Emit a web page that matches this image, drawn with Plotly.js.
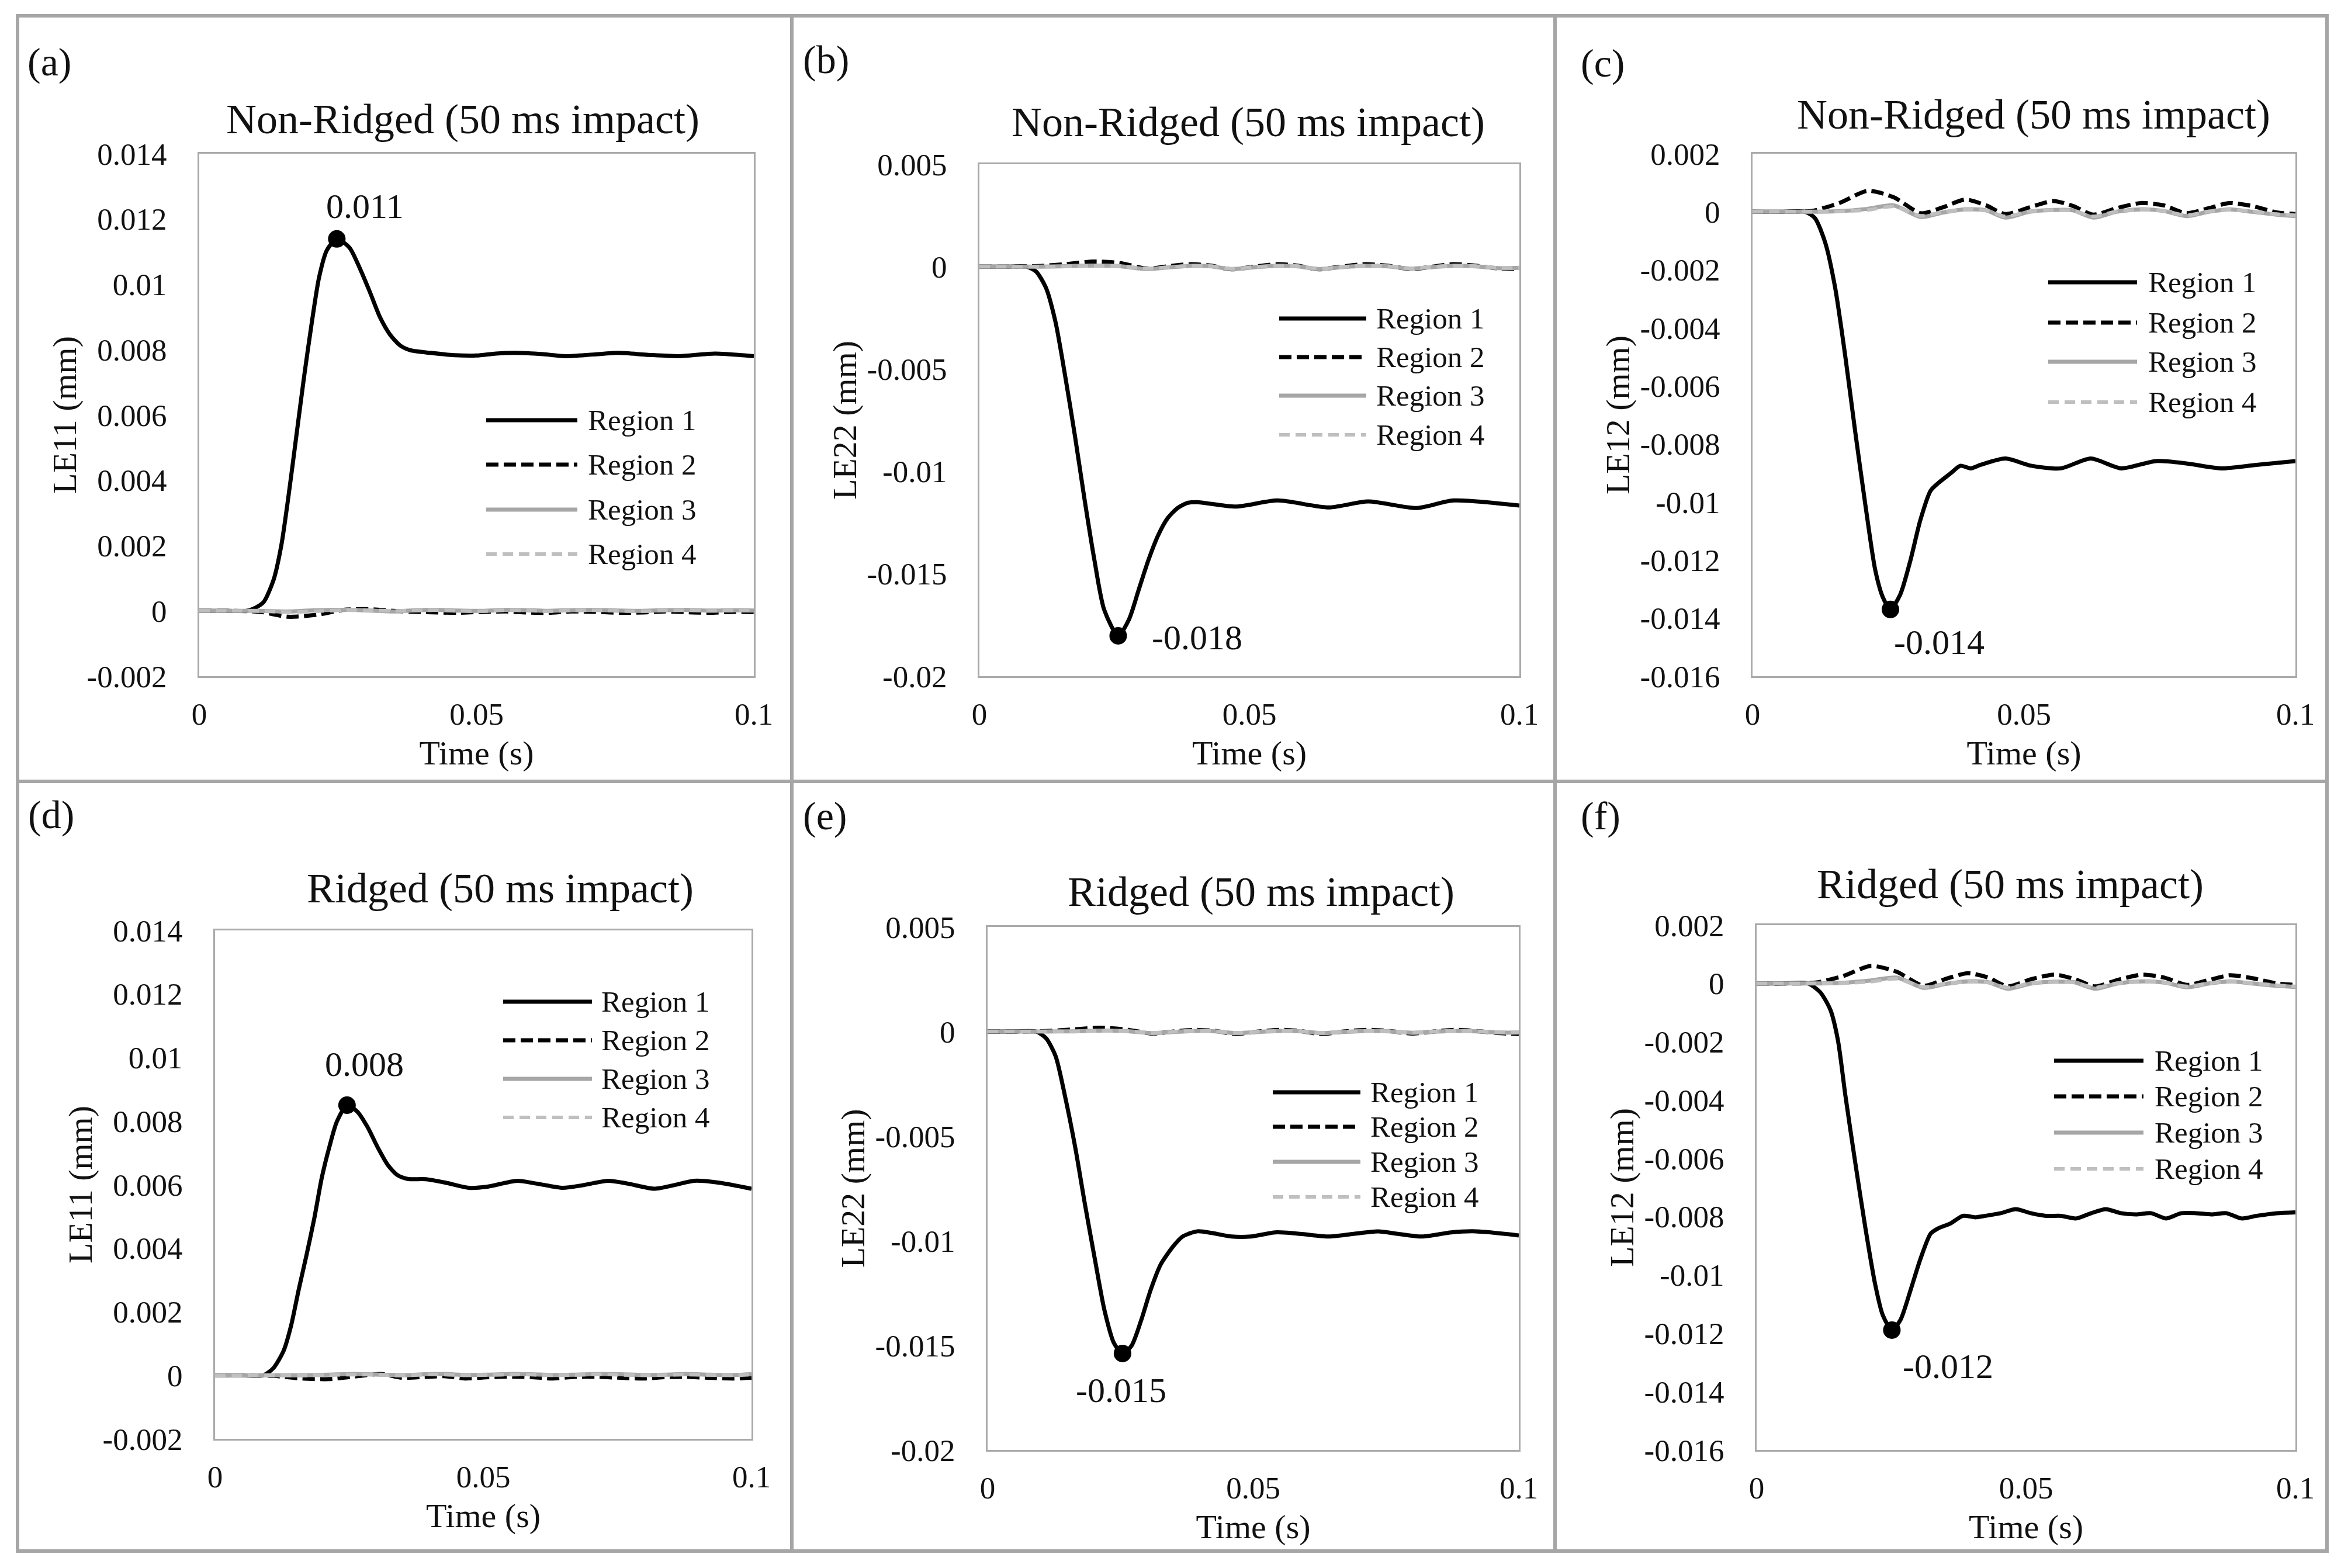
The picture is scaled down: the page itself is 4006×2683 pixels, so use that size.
<!DOCTYPE html>
<html><head><meta charset="utf-8">
<script src="https://cdn.plot.ly/plotly-3.0.1.min.js"></script>
<style>html,body{margin:0;padding:0;background:#fff;}#chart{width:4006px;height:2683px;}</style>
</head><body><div id="chart"></div>
<script>
// ================= DATA =================
const regionNames = ['Region 1', 'Region 2', 'Region 3', 'Region 4'];
const panelLetters = ['(a)', '(b)', '(c)', '(d)', '(e)', '(f)'];
const panelTitles = ['Non-Ridged (50 ms impact)', 'Non-Ridged (50 ms impact)', 'Non-Ridged (50 ms impact)',
                     'Ridged (50 ms impact)', 'Ridged (50 ms impact)', 'Ridged (50 ms impact)'];
const yTitles = ['LE11 (mm)', 'LE22 (mm)', 'LE12 (mm)', 'LE11 (mm)', 'LE22 (mm)', 'LE12 (mm)'];
const xTitle = 'Time (s)';
const peakLabels = ['0.011', '-0.018', '-0.014', '0.008', '-0.015', '-0.012'];

const xTickVals = [0, 0.05, 0.1];
const xTickText = ['0', '0.05', '0.1'];
const yTickValsLE11 = [-0.002, 0, 0.002, 0.004, 0.006, 0.008, 0.01, 0.012, 0.014];
const yTickTextLE11 = ['-0.002', '0', '0.002', '0.004', '0.006', '0.008', '0.01', '0.012', '0.014'];
const yTickValsLE22 = [-0.02, -0.015, -0.01, -0.005, 0, 0.005];
const yTickTextLE22 = ['-0.02', '-0.015', '-0.01', '-0.005', '0', '0.005'];
const yTickValsLE12 = [-0.016, -0.014, -0.012, -0.01, -0.008, -0.006, -0.004, -0.002, 0, 0.002];
const yTickTextLE12 = ['-0.016', '-0.014', '-0.012', '-0.01', '-0.008', '-0.006', '-0.004', '-0.002', '0', '0.002'];

// Region 1 (time, value) per panel
const tA1 = [0, 0.005, 0.0085, 0.0098, 0.0116, 0.0134, 0.0148, 0.0161, 0.0175, 0.0189, 0.0203, 0.0216, 0.023, 0.0248, 0.0271, 0.0289, 0.0308, 0.0326, 0.0344, 0.0362, 0.0381, 0.0417, 0.046, 0.05, 0.0535, 0.057, 0.062, 0.066, 0.071, 0.0756, 0.081, 0.0865, 0.093, 0.1];
const vA1 = [0, 0, 0, 0.00007, 0.00027, 0.00095, 0.00201, 0.00353, 0.00535, 0.00717, 0.00884, 0.01021, 0.01104, 0.01139, 0.01112, 0.01051, 0.00975, 0.00899, 0.00846, 0.00813, 0.00798, 0.0079, 0.00783, 0.00782, 0.00788, 0.0079, 0.00786, 0.0078, 0.00785, 0.0079, 0.00784, 0.0078, 0.00788, 0.0078];

const tB1 = [0, 0.005, 0.0087, 0.0105, 0.0123, 0.0141, 0.0159, 0.0177, 0.0195, 0.0213, 0.0231, 0.0257, 0.0277, 0.0295, 0.0313, 0.0331, 0.0349, 0.0367, 0.0385, 0.0403, 0.0475, 0.0552, 0.0647, 0.072, 0.081, 0.0878, 0.1];
const vB1 = [0, 0, 0, -0.00024, -0.00102, -0.00271, -0.00537, -0.00828, -0.01142, -0.01433, -0.01675, -0.01803, -0.01723, -0.01578, -0.01433, -0.01312, -0.01227, -0.01179, -0.01154, -0.0115, -0.01172, -0.01142, -0.01176, -0.01147, -0.01179, -0.01142, -0.01167];

const tC1 = [0, 0.005, 0.0097, 0.0115, 0.0134, 0.0152, 0.0171, 0.0189, 0.0208, 0.0226, 0.024, 0.0254, 0.0272, 0.0291, 0.0309, 0.0328, 0.0342, 0.0365, 0.0383, 0.0402, 0.042, 0.0466, 0.0513, 0.0568, 0.0623, 0.0679, 0.0743, 0.0799, 0.0863, 0.0928, 0.1];
const vC1 = [0, 0, 0, -0.00022, -0.00107, -0.0026, -0.005, -0.00756, -0.01012, -0.01234, -0.01328, -0.0137, -0.01319, -0.012, -0.01063, -0.00961, -0.00935, -0.00901, -0.00875, -0.00884, -0.00872, -0.0085, -0.00875, -0.00884, -0.0085, -0.00884, -0.00859, -0.00867, -0.00884, -0.00872, -0.00859];

const tD1 = [0, 0.005, 0.009, 0.0109, 0.0128, 0.0142, 0.0156, 0.0171, 0.0185, 0.0199, 0.0213, 0.0227, 0.0246, 0.0265, 0.0284, 0.0303, 0.0322, 0.034, 0.0359, 0.0393, 0.043, 0.0473, 0.0506, 0.0563, 0.06, 0.0648, 0.0685, 0.0733, 0.077, 0.0818, 0.0855, 0.0893, 0.094, 0.1];
const vD1 = [0, 0, 0, 0.00023, 0.00078, 0.00158, 0.0027, 0.00382, 0.00494, 0.00622, 0.00718, 0.00798, 0.0085, 0.0083, 0.00782, 0.00718, 0.00662, 0.0063, 0.00618, 0.00617, 0.00606, 0.0059, 0.00593, 0.00612, 0.00603, 0.0059, 0.00598, 0.00612, 0.00603, 0.00587, 0.00598, 0.00612, 0.00606, 0.00587];

const tE1 = [0, 0.005, 0.0091, 0.011, 0.0128, 0.0146, 0.0165, 0.0183, 0.0202, 0.022, 0.0238, 0.0254, 0.0271, 0.0289, 0.0307, 0.0326, 0.0349, 0.0367, 0.0395, 0.0422, 0.0459, 0.0496, 0.0542, 0.0588, 0.0643, 0.0689, 0.0735, 0.0772, 0.0818, 0.0873, 0.0919, 0.1];
const vE1 = [0, 0, 0, -0.00032, -0.00117, -0.00312, -0.00554, -0.00822, -0.01089, -0.01332, -0.0149, -0.01539, -0.01502, -0.01381, -0.01235, -0.01113, -0.01028, -0.0098, -0.00955, -0.00963, -0.0098, -0.0098, -0.0096, -0.00967, -0.0098, -0.00967, -0.00955, -0.00967, -0.0098, -0.0096, -0.00955, -0.00975];

const tF1 = [0, 0.005, 0.0095, 0.0118, 0.0137, 0.0151, 0.0165, 0.0183, 0.0202, 0.022, 0.0234, 0.0251, 0.0267, 0.0286, 0.0304, 0.0323, 0.0337, 0.036, 0.0383, 0.0406, 0.0425, 0.0453, 0.0481, 0.0509, 0.0537, 0.0565, 0.0593, 0.0621, 0.0648, 0.0676, 0.0704, 0.0732, 0.076, 0.0788, 0.0816, 0.0844, 0.0872, 0.09, 0.0928, 0.0965, 0.1];
const vF1 = [0, 0, 0, -0.0003, -0.00091, -0.00196, -0.00388, -0.00614, -0.0084, -0.01032, -0.01137, -0.01189, -0.01154, -0.0105, -0.00945, -0.00858, -0.0084, -0.00823, -0.00797, -0.00802, -0.00797, -0.00788, -0.00774, -0.00788, -0.00797, -0.00797, -0.00806, -0.00788, -0.00774, -0.00788, -0.00792, -0.00788, -0.00806, -0.00788, -0.00788, -0.00792, -0.00788, -0.00806, -0.00797, -0.00788, -0.00785];

// Regions 2-4 share one time base
const tS = [0, 0.006, 0.011, 0.016, 0.0212, 0.026, 0.031, 0.035, 0.0392, 0.043, 0.0466, 0.051, 0.0554, 0.059, 0.0628, 0.067, 0.0715, 0.0757, 0.0799, 0.084, 0.0878, 0.092, 0.0965, 0.1];

const vA2 = [0, 0, -0.00003, -0.00018, -0.00012, 0.00003, 0.00005, 0, -0.00003, -0.00005, -0.00006, -0.00003, -0.00002, -0.00005, -0.00006, -0.00002, -0.00003, -0.00006, -0.00005, -0.00002, -0.00004, -0.00006, -0.00003, -0.00004];
const vA3 = [0, 0, 0, -0.00002, 0.00002, 0.00003, 0.00001, -0.00002, 0.00002, 0.00003, 0.00001, 0, 0.00003, 0.00002, 0, 0.00002, 0.00003, 0.00001, 0, 0.00002, 0.00003, 0.00001, 0.00002, 0.00001];
const vA4 = [0, 0, 0, -0.00004, -0.00001, 0.00002, 0.00002, 0, 0.00001, 0.00002, 0, -0.00001, 0.00002, 0.00001, -0.00001, 0.00001, 0.00002, 0, -0.00001, 0.00001, 0.00002, 0, 0.00001, 0];

const vB2 = [0, 0, 0.00003, 0.00012, 0.00025, 0.00018, -0.0001, 0.00002, 0.00012, 0.00004, -0.00013, 0, 0.00012, 0.00004, -0.00013, 0, 0.00012, 0.00004, -0.00012, 0, 0.00012, 0.00004, -0.0001, -0.0001];
const vB3 = [0, 0, 0, 0.00002, 0.00005, 0.00002, -0.00012, -0.00004, 0.00004, 0.00001, -0.00012, -0.00003, 0.00004, 0.00001, -0.00012, -0.00003, 0.00004, 0.00001, -0.0001, -0.00002, 0.00004, 0.00001, -0.00008, -0.00006];
const vB4 = [0, 0, 0, 0.00001, 0.00004, 0.00003, -0.0001, -0.00003, 0.00005, 0.00002, -0.0001, -0.00002, 0.00005, 0.00002, -0.0001, -0.00002, 0.00005, 0.00002, -0.00008, -0.00001, 0.00005, 0.00002, -0.00006, -0.00005];

const vC2 = [0, 0, 0.00003, 0.0003, 0.00072, 0.0005, -0.00005, 0.00015, 0.00042, 0.00022, -0.00008, 0.00015, 0.00037, 0.0002, -0.0001, 0.00012, 0.0003, 0.00022, -0.00005, 0.00012, 0.0003, 0.0002, -0.00002, -0.00008];
const vC3 = [0, 0, 0, 0.00002, 0.0001, 0.00022, -0.00018, -0.00003, 0.00008, 0.00005, -0.0002, 0, 0.00006, 0.00005, -0.0002, 0, 0.00008, 0.00003, -0.00015, 0, 0.00008, 0, -0.0001, -0.00015];
const vC4 = [0, 0, 0, 0.00001, 0.00006, 0.00018, -0.00014, -0.00001, 0.00007, 0.00004, -0.00016, 0.00001, 0.00006, 0.00004, -0.00016, 0.00001, 0.00007, 0.00003, -0.00012, 0.00001, 0.00007, 0.00001, -0.00008, -0.00012];

const vD2 = [0, 0, -0.00002, -0.0001, -0.00012, -0.00004, 0.00004, -0.00008, -0.00005, -0.00003, -0.0001, -0.00006, -0.00004, -0.00006, -0.0001, -0.00005, -0.00005, -0.00008, -0.0001, -0.00006, -0.00005, -0.00008, -0.0001, -0.00008];
const vD3 = [0, 0, 0, 0, 0.00002, 0.00004, 0.00002, 0, 0.00003, 0.00004, 0.00001, 0.00002, 0.00004, 0.00003, 0.00001, 0.00002, 0.00004, 0.00003, 0.00001, 0.00002, 0.00004, 0.00002, 0.00001, 0.00003];
const vD4 = [0, 0, 0, -0.00001, 0.00001, 0.00002, 0.00001, -0.00001, 0.00002, 0.00002, 0, 0.00001, 0.00002, 0.00002, 0, 0.00001, 0.00003, 0.00001, 0, 0.00001, 0.00002, 0.00001, 0, 0.00002];

const vE2 = [0, 0, 0.00002, 0.0001, 0.00018, 0.0001, -0.0001, 0, 0.00008, 0.00002, -0.00012, 0, 0.00008, 0.00002, -0.00012, 0, 0.00008, 0.00002, -0.0001, 0, 0.00008, 0.00002, -0.00008, -0.00012];
const vE3 = [0, 0, 0, 0.00001, 0.00004, 0.00002, -0.00008, -0.00002, 0.00003, 0.00001, -0.00008, -0.00002, 0.00003, 0.00001, -0.00008, -0.00002, 0.00003, 0.00001, -0.00006, -0.00001, 0.00003, 0.00001, -0.00005, -0.00005];
const vE4 = [0, 0, 0, 0, 0.00003, 0.00002, -0.00006, -0.00001, 0.00003, 0.00001, -0.00006, -0.00001, 0.00003, 0.00001, -0.00006, -0.00001, 0.00003, 0.00001, -0.00005, 0, 0.00003, 0.00001, -0.00004, -0.00004];

const vF2 = [0, 0, 0.00003, 0.00025, 0.0006, 0.0004, -0.00008, 0.00015, 0.00035, 0.0002, -0.0001, 0.00015, 0.0003, 0.00015, -0.0001, 0.00012, 0.0003, 0.0002, -0.00005, 0.00012, 0.00028, 0.00018, 0, -0.00005];
const vF3 = [0, 0, 0, 0.00002, 0.0001, 0.0002, -0.00015, -0.00002, 0.00007, 0.00004, -0.00018, 0, 0.00006, 0.00004, -0.00018, 0, 0.00007, 0.00003, -0.00013, 0, 0.00007, 0, -0.00008, -0.00012];
const vF4 = [0, 0, 0, 0.00001, 0.00006, 0.00016, -0.00012, -0.00001, 0.00006, 0.00003, -0.00014, 0.00001, 0.00005, 0.00003, -0.00014, 0.00001, 0.00006, 0.00003, -0.0001, 0.00001, 0.00006, 0.00001, -0.00006, -0.0001];

// ================= LAYOUT / STYLE =================
const W = 4006, H = 2683;
const FONT = '"Liberation Serif", "Times New Roman", Times, serif';
const TXT = '#111111';
const px = v => v / W;
const py = v => 1 - v / H;

// plot-area boxes in pixels: [left, right, top, bottom]
const boxes = [
  [341, 1290, 263, 1157], [1676, 2600, 281, 1157], [2999, 3928, 263, 1157],
  [368, 1286, 1592, 2462], [1690, 2599, 1586, 2481], [3006, 3928, 1583, 2481]
];
const titlePos = [[792, 204], [2136, 209], [3480, 196], [856, 1520], [2158, 1526], [3440, 1513]];
const letterPos = [[45, 106], [1372, 102], [2703, 108], [46, 1394], [1372, 1396], [2703, 1396]];
const legendPos = [
  {x0: 832, x1: 988, tx: 1004, rows: [719, 795, 872, 948]},
  {x0: 2189, x1: 2338, tx: 2353, rows: [545, 611, 677, 744]},
  {x0: 3505, x1: 3657, tx: 3674, rows: [483, 552, 619, 688]},
  {x0: 861, x1: 1013, tx: 1027, rows: [1714, 1780, 1846, 1912]},
  {x0: 2178, x1: 2328, tx: 2343, rows: [1869, 1928, 1988, 2048]},
  {x0: 3515, x1: 3668, tx: 3685, rows: [1815, 1876, 1938, 2000]}
];
const peakLabelStyle = [
  {xanchor: 'center', xshift: 48, yshift: 56},
  {xanchor: 'left', xshift: 56, yshift: -3},
  {xanchor: 'left', xshift: 4, yshift: -56},
  {xanchor: 'center', xshift: 30, yshift: 70},
  {xanchor: 'center', xshift: -2, yshift: -63},
  {xanchor: 'left', xshift: 17, yshift: -62}
];
const lineStyles = [
  {color: '#000000', width: 7, dash: 'solid'},
  {color: '#000000', width: 7, dash: '21px,9px'},
  {color: '#a6a6a6', width: 7, dash: 'solid'},
  {color: '#bfbfbf', width: 6, dash: '18px,10px'}
];

const panelSeries = [
  [[tA1, vA1], [tS, vA2], [tS, vA3], [tS, vA4]],
  [[tB1, vB1], [tS, vB2], [tS, vB3], [tS, vB4]],
  [[tC1, vC1], [tS, vC2], [tS, vC3], [tS, vC4]],
  [[tD1, vD1], [tS, vD2], [tS, vD3], [tS, vD4]],
  [[tE1, vE1], [tS, vE2], [tS, vE3], [tS, vE4]],
  [[tF1, vF1], [tS, vF2], [tS, vF3], [tS, vF4]]
];
const yTickSets = [
  [yTickValsLE11, yTickTextLE11], [yTickValsLE22, yTickTextLE22], [yTickValsLE12, yTickTextLE12],
  [yTickValsLE11, yTickTextLE11], [yTickValsLE22, yTickTextLE22], [yTickValsLE12, yTickTextLE12]
];

const traces = [];
const annotations = [];
const shapes = [];
const layout = {
  width: W, height: H, margin: {l: 0, r: 0, t: 0, b: 0},
  paper_bgcolor: '#ffffff', plot_bgcolor: '#ffffff', showlegend: false,
  font: {family: FONT, color: TXT}
};

panelSeries.forEach((series, i) => {
  const n = i + 1;
  const xa = 'x' + n, ya = 'y' + n;
  const [l, r, t, b] = boxes[i];
  const [ytv, ytt] = yTickSets[i];

  layout['xaxis' + n] = {
    domain: [px(l), px(r)], anchor: ya, range: [xTickVals[0], xTickVals[xTickVals.length - 1]],
    tickvals: xTickVals, ticktext: xTickText, ticks: '', ticklabelstandoff: 16,
    showgrid: false, zeroline: false, showline: true, mirror: true, linecolor: '#aaaaaa', linewidth: 3,
    tickfont: {family: FONT, size: 53, color: TXT}, fixedrange: true,
    title: {text: xTitle, font: {family: FONT, size: 58, color: TXT}, standoff: 18}
  };
  layout['yaxis' + n] = {
    domain: [py(b), py(t)], anchor: xa, range: [ytv[0], ytv[ytv.length - 1]],
    tickvals: ytv, ticktext: ytt, ticks: '', ticklabelstandoff: 42,
    showgrid: false, zeroline: false, showline: true, mirror: true, linecolor: '#aaaaaa', linewidth: 3,
    tickfont: {family: FONT, size: 53, color: TXT}, fixedrange: true,
    title: {text: yTitles[i], font: {family: FONT, size: 58, color: TXT}, standoff: 0}
  };

  series.forEach(([tx, vy], k) => {
    const st = lineStyles[k];
    traces.push({
      type: 'scatter', mode: 'lines', name: regionNames[k], x: tx, y: vy, xaxis: xa, yaxis: ya,
      line: {color: st.color, width: st.width, dash: st.dash, shape: 'spline', smoothing: 0.7},
      hoverinfo: 'skip', cliponaxis: true
    });
  });

  // peak marker at the extreme value of Region 1
  const [t1, v1] = series[0];
  let idx = 0;
  v1.forEach((v, j) => { if (Math.abs(v) > Math.abs(v1[idx])) idx = j; });
  traces.push({
    type: 'scatter', mode: 'markers', x: [t1[idx]], y: [v1[idx]], xaxis: xa, yaxis: ya,
    marker: {color: '#000000', size: 30}, hoverinfo: 'skip', cliponaxis: false
  });
  const ps = peakLabelStyle[i];
  annotations.push({
    xref: xa, yref: ya, x: t1[idx], y: v1[idx], text: peakLabels[i], showarrow: false,
    xanchor: ps.xanchor, yanchor: 'middle', xshift: ps.xshift, yshift: ps.yshift,
    font: {family: FONT, size: 60, color: TXT}
  });

  // panel title
  annotations.push({
    xref: 'paper', yref: 'paper', x: px(titlePos[i][0]), y: py(titlePos[i][1]), text: panelTitles[i],
    showarrow: false, xanchor: 'center', yanchor: 'middle', font: {family: FONT, size: 72, color: TXT}
  });
  // panel letter
  annotations.push({
    xref: 'paper', yref: 'paper', x: px(letterPos[i][0]), y: py(letterPos[i][1]), text: panelLetters[i],
    showarrow: false, xanchor: 'left', yanchor: 'middle', font: {family: FONT, size: 68, color: TXT}
  });

  // legend
  const lg = legendPos[i];
  regionNames.forEach((nm, k) => {
    const st = lineStyles[k];
    shapes.push({
      type: 'line', xref: 'paper', yref: 'paper', x0: px(lg.x0), x1: px(lg.x1), y0: py(lg.rows[k]), y1: py(lg.rows[k]),
      line: {color: st.color, width: st.width, dash: st.dash}
    });
    annotations.push({
      xref: 'paper', yref: 'paper', x: px(lg.tx), y: py(lg.rows[k]), text: nm, showarrow: false,
      xanchor: 'left', yanchor: 'middle', font: {family: FONT, size: 51, color: TXT}
    });
  });
});

// figure frame and panel dividers
const frameCol = '#a6a6a6';
shapes.push({type: 'rect', xref: 'paper', yref: 'paper', x0: px(30), x1: px(3982), y0: py(27), y1: py(2654),
             line: {color: frameCol, width: 6}, fillcolor: 'rgba(0,0,0,0)', layer: 'below'});
[1355, 2661].forEach(xv => shapes.push({type: 'line', xref: 'paper', yref: 'paper', x0: px(xv), x1: px(xv),
             y0: py(27), y1: py(2654), line: {color: frameCol, width: 6}}));
shapes.push({type: 'line', xref: 'paper', yref: 'paper', x0: px(30), x1: px(3982), y0: py(1337), y1: py(1337),
             line: {color: frameCol, width: 6}});

layout.annotations = annotations;
layout.shapes = shapes;

Plotly.newPlot('chart', traces, layout, {displayModeBar: false, staticPlot: true});
</script>
</body></html>
